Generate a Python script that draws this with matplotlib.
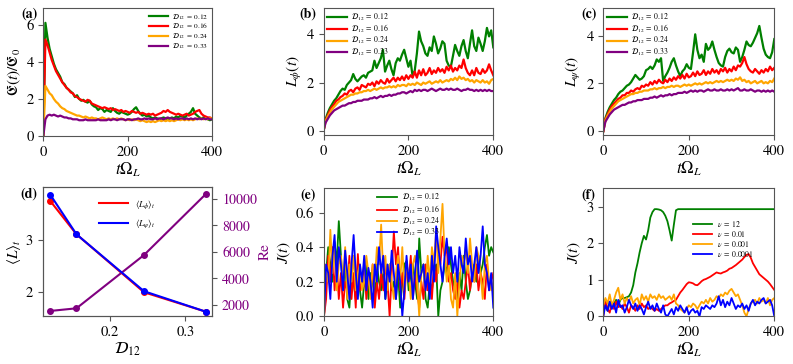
import numpy as np
import matplotlib
matplotlib.use("Agg")
import matplotlib.pyplot as plt
from matplotlib.lines import Line2D

plt.rcParams['font.family'] = 'STIXGeneral'
plt.rcParams['mathtext.fontset'] = 'stix'
plt.rcParams['font.size'] = 10

# ---- data ----
d_labels = [r'$\mathcal{D}_{12}\;=\;0.12$', r'$\mathcal{D}_{12}\;=\;0.16$',
            r'$\mathcal{D}_{12}\;=\;0.24$', r'$\mathcal{D}_{12}\;=\;0.33$']
nu_labels = [r'$\nu\;=\;12$', r'$\nu\;=\;0.01$', r'$\nu\;=\;0.001$', r'$\nu\;=\;0.0001$']

# (a) energy ratio, sampled every 5 time units
E_012 = [0.0, 6.1, 5.3, 4.7, 4.3, 3.9, 3.6, 3.4, 3.2, 2.9, 2.8, 2.6, 2.5, 2.4, 2.3, 2.1, 2.2, 2.0, 1.9, 1.95,
         1.85, 1.8, 1.9, 1.7, 1.6, 1.55, 1.4, 1.5, 1.45, 1.3, 1.4, 1.35, 1.3, 1.5, 1.35, 1.25, 1.2, 1.3, 1.25, 1.2,
         1.15, 1.2, 1.3, 1.45, 1.55, 1.35, 1.2, 1.1, 1.15, 1.05, 1.1, 1.0, 0.95, 1.0, 0.95, 0.9, 0.95, 1.0, 0.95, 0.9,
         0.95, 1.0, 0.95, 1.05, 1.0, 1.1, 1.05, 1.0, 1.1, 1.2, 1.3, 1.5, 1.2, 1.1, 1.0, 0.95, 1.0, 0.95, 0.9, 0.85, 0.9]
E_016 = [0.0, 5.2, 4.9, 4.5, 4.1, 3.8, 3.5, 3.3, 3.1, 2.9, 2.75, 2.6, 2.5, 2.35, 2.3, 2.15, 2.1, 2.0, 1.95, 1.9,
         1.85, 1.95, 1.9, 1.75, 1.7, 1.65, 1.6, 1.55, 1.5, 1.55, 1.5, 1.45, 1.5, 1.4, 1.45, 1.4, 1.35, 1.4, 1.3, 1.35,
         1.3, 1.25, 1.35, 1.3, 1.25, 1.3, 1.2, 1.25, 1.2, 1.15, 1.2, 1.15, 1.2, 1.1, 1.15, 1.2, 1.25, 1.35, 1.3, 1.4,
         1.3, 1.25, 1.2, 1.15, 1.2, 1.15, 1.1, 1.15, 1.2, 1.1, 1.15, 1.2, 1.3, 1.35, 1.4, 1.2, 1.1, 1.05, 1.0, 1.0, 0.95]
E_024 = [0.0, 2.7, 2.5, 2.3, 2.2, 2.0, 1.85, 1.75, 1.6, 1.5, 1.45, 1.35, 1.3, 1.25, 1.2, 1.15, 1.1, 1.1, 1.05, 1.0,
         1.05, 1.0, 0.95, 1.0, 0.95, 0.95, 0.9, 0.95, 1.0, 0.95, 0.9, 0.95, 0.9, 0.95, 0.9, 0.95, 0.9, 0.95, 0.9, 0.85,
         0.9, 0.85, 0.9, 0.85, 0.9, 0.85, 0.8, 0.85, 0.8, 0.75, 0.8, 0.75, 0.8, 0.75, 0.8, 0.85, 0.8, 0.85, 0.8, 0.85,
         0.8, 0.85, 0.8, 0.85, 0.9, 0.85, 0.9, 0.85, 0.9, 0.85, 0.9, 0.85, 0.9, 0.95, 0.9, 0.95, 0.9, 0.95, 0.9, 0.95, 0.95]
E_033 = [0.0, 0.9, 1.1, 1.15, 1.1, 1.15, 1.1, 1.05, 1.1, 1.05, 1.0, 1.0, 0.95, 0.95, 0.9, 0.9, 0.9, 0.85, 0.85, 0.85,
         0.9, 0.85, 0.85, 0.85, 0.85, 0.85, 0.9, 0.85, 0.85, 0.85, 0.85, 0.9, 0.85, 0.9, 0.9, 0.85, 0.9, 0.9, 0.9, 0.85,
         0.9, 0.9, 0.85, 0.9, 0.9, 0.95, 0.9, 0.9, 0.95, 0.9, 0.95, 0.9, 0.9, 0.95, 0.9, 0.95, 0.95, 0.9, 0.95, 1.0,
         0.95, 0.95, 0.9, 0.95, 0.9, 0.95, 0.95, 0.9, 0.95, 0.9, 0.95, 0.9, 0.95, 0.9, 0.95, 0.9, 0.95, 0.9, 0.95, 0.9, 0.9]

# (b) L_phi(t)
Lphi_012 = [0.0, 0.5, 0.75, 0.95, 1.1, 1.25, 1.35, 1.5, 1.65, 1.75, 1.7, 1.9, 2.0, 2.1, 2.35, 2.15, 2.05, 2.15, 2.25, 2.3,
            2.2, 2.4, 2.45, 2.5, 2.9, 2.6, 2.8, 3.0, 3.35, 2.45, 2.7, 2.9, 2.55, 2.3, 2.8, 3.0, 2.9, 3.15, 3.35, 3.0,
            2.65, 2.9, 2.25, 2.5, 3.2, 4.1, 3.7, 3.5, 3.2, 3.1, 3.45, 3.3, 3.9, 3.6, 3.2, 3.4, 3.7, 3.6, 2.9, 2.7,
            2.65, 3.1, 3.55, 3.3, 3.1, 3.5, 3.75, 3.3, 3.0, 3.6, 4.15, 3.5, 3.3, 3.85, 3.6, 3.3, 3.7, 4.25, 3.9, 4.15, 3.45]
Lphi_016 = [0.0, 0.45, 0.65, 0.85, 1.0, 1.1, 1.25, 1.3, 1.4, 1.45, 1.55, 1.5, 1.65, 1.7, 1.6, 1.75, 1.8, 1.7, 1.9, 1.85,
            1.8, 1.95, 1.9, 2.0, 1.85, 2.05, 1.95, 2.1, 2.0, 1.95, 2.15, 2.0, 2.1, 2.2, 2.05, 2.2, 2.1, 2.25, 2.1, 2.3,
            2.15, 2.3, 2.2, 2.45, 2.2, 2.5, 2.3, 2.55, 2.3, 2.4, 2.6, 2.35, 2.5, 2.4, 2.6, 2.45, 2.55, 2.4, 2.65, 2.5,
            2.7, 2.45, 2.6, 2.5, 2.7, 2.6, 2.95, 2.6, 2.4, 2.3, 2.5, 2.3, 2.6, 2.4, 2.35, 2.55, 2.4, 2.5, 2.75, 2.5, 2.3]
Lphi_024 = [0.0, 0.4, 0.6, 0.75, 0.9, 1.0, 1.1, 1.2, 1.25, 1.3, 1.35, 1.4, 1.45, 1.5, 1.5, 1.55, 1.55, 1.6, 1.6, 1.65,
            1.65, 1.7, 1.65, 1.7, 1.75, 1.7, 1.75, 1.8, 1.75, 1.8, 1.8, 1.85, 1.8, 1.85, 1.8, 1.9, 1.85, 1.9, 1.9, 1.85,
            1.95, 1.9, 1.95, 1.9, 2.0, 1.95, 1.9, 2.0, 1.95, 2.0, 2.05, 1.95, 2.0, 2.05, 2.0, 2.1, 2.0, 2.05, 2.1, 2.05,
            2.15, 2.1, 2.2, 2.1, 2.25, 2.15, 2.2, 2.1, 2.15, 2.05, 2.1, 2.0, 2.1, 2.05, 2.0, 2.1, 2.0, 2.05, 1.95, 2.1, 2.15]
Lphi_033 = [0.0, 0.35, 0.5, 0.65, 0.75, 0.85, 0.9, 0.95, 1.0, 1.05, 1.05, 1.1, 1.15, 1.15, 1.2, 1.2, 1.25, 1.25, 1.25, 1.3,
            1.3, 1.3, 1.35, 1.35, 1.4, 1.35, 1.4, 1.45, 1.4, 1.45, 1.45, 1.5, 1.45, 1.5, 1.5, 1.55, 1.55, 1.6, 1.6, 1.55,
            1.6, 1.65, 1.6, 1.7, 1.65, 1.7, 1.65, 1.7, 1.7, 1.65, 1.7, 1.75, 1.7, 1.65, 1.7, 1.75, 1.7, 1.7, 1.75, 1.7,
            1.75, 1.7, 1.7, 1.75, 1.7, 1.65, 1.7, 1.7, 1.75, 1.7, 1.7, 1.65, 1.7, 1.65, 1.7, 1.65, 1.7, 1.65, 1.7, 1.65, 1.65]

# (c) L_psi(t)
Lpsi_012 = [0.0, 0.55, 0.8, 1.0, 1.15, 1.3, 1.4, 1.55, 1.65, 1.7, 1.8, 1.9, 1.95, 2.05, 2.2, 2.35, 2.25, 2.15, 2.2, 2.3,
            2.55, 2.6, 2.7, 2.6, 2.75, 3.0, 2.9, 3.05, 2.1, 2.3, 2.45, 2.65, 2.9, 3.05, 2.75, 2.5, 2.3, 2.5, 2.6, 2.8,
            2.65, 2.6, 3.3, 4.05, 3.4, 3.05, 3.2, 2.9, 3.65, 3.4, 3.5, 3.75, 3.4, 3.1, 2.85, 2.75, 2.7, 3.1, 3.35, 3.45,
            3.3, 3.25, 3.5, 3.4, 2.9, 3.1, 3.4, 3.75, 3.6, 3.55, 3.7, 3.9, 4.1, 4.4, 3.9, 3.45, 3.2, 3.1, 3.05, 3.3, 3.85]
Lpsi_016 = [0.0, 0.5, 0.7, 0.9, 1.05, 1.15, 1.25, 1.35, 1.4, 1.5, 1.5, 1.6, 1.6, 1.7, 1.65, 1.75, 1.8, 1.75, 1.9, 1.85,
            1.95, 1.9, 2.05, 1.95, 2.1, 2.0, 2.15, 2.05, 2.0, 2.15, 2.05, 2.2, 2.1, 2.25, 2.15, 2.3, 2.2, 2.35, 2.2, 2.4,
            2.25, 2.3, 2.45, 2.3, 2.5, 2.35, 2.4, 2.55, 2.35, 2.5, 2.4, 2.6, 2.45, 2.55, 2.4, 2.6, 2.5, 2.65, 2.45, 2.6,
            2.5, 2.7, 2.55, 2.75, 2.7, 2.85, 3.1, 2.8, 2.6, 2.5, 2.45, 2.6, 2.5, 2.4, 2.55, 2.45, 2.6, 2.5, 2.7, 2.55, 2.65]
Lpsi_024 = [0.0, 0.45, 0.65, 0.8, 0.95, 1.05, 1.15, 1.25, 1.3, 1.35, 1.4, 1.45, 1.5, 1.55, 1.55, 1.6, 1.6, 1.65, 1.65, 1.7,
            1.7, 1.7, 1.75, 1.75, 1.8, 1.75, 1.8, 1.8, 1.85, 1.8, 1.85, 1.85, 1.9, 1.85, 1.9, 1.9, 1.85, 1.9, 1.95, 1.9,
            1.95, 1.9, 1.95, 2.0, 1.95, 2.0, 1.95, 2.0, 2.05, 2.0, 2.05, 2.0, 2.05, 2.1, 2.05, 2.1, 2.05, 2.1, 2.15, 2.1,
            2.15, 2.1, 2.2, 2.15, 2.25, 2.1, 2.15, 2.05, 2.1, 2.0, 2.05, 2.1, 2.0, 2.05, 2.1, 2.0, 2.05, 2.0, 2.1, 2.05, 2.2]
Lpsi_033 = [0.0, 0.4, 0.55, 0.7, 0.8, 0.9, 0.95, 1.0, 1.05, 1.1, 1.1, 1.15, 1.2, 1.2, 1.25, 1.25, 1.3, 1.3, 1.3, 1.35,
            1.35, 1.35, 1.4, 1.4, 1.45, 1.4, 1.45, 1.5, 1.45, 1.5, 1.5, 1.55, 1.5, 1.55, 1.55, 1.6, 1.6, 1.6, 1.65, 1.6,
            1.65, 1.7, 1.65, 1.7, 1.65, 1.7, 1.7, 1.65, 1.7, 1.75, 1.7, 1.7, 1.75, 1.7, 1.7, 1.75, 1.7, 1.7, 1.75, 1.7,
            1.75, 1.7, 1.75, 1.8, 1.7, 1.7, 1.75, 1.7, 1.7, 1.75, 1.7, 1.65, 1.7, 1.7, 1.65, 1.7, 1.65, 1.7, 1.65, 1.7, 1.65]

# (d) time averages and Reynolds number
D12 = [0.12, 0.155, 0.245, 0.327]
Lphi_mean = [3.75, 3.11, 2.0, 1.63]
Lpsi_mean = [3.87, 3.11, 2.02, 1.63]
Re = [1550, 1750, 5770, 10350]

# (e) J(t)
J_012 = [0.0, 0.25, 0.4, 0.3, 0.2, 0.43, 0.3, 0.55, 0.35, 0.15, 0.3, 0.1, 0.05, 0.25, 0.2, 0.1, 0.3, 0.15, 0.05, 0.2,
         0.3, 0.1, 0.25, 0.2, 0.1, 0.3, 0.2, 0.15, 0.25, 0.1, 0.2, 0.3, 0.15, 0.2, 0.1, 0.25, 0.05, 0.2, 0.3, 0.32,
         0.15, 0.25, 0.3, 0.2, 0.1, 0.45, 0.25, 0.3, 0.1, 0.05, 0.2, 0.15, 0.25, 0.3, 0.0, 0.15, 0.2, 0.3, 0.25, 0.4,
         0.3, 0.2, 0.15, 0.1, 0.25, 0.15, 0.35, 0.2, 0.1, 0.15, 0.25, 0.3, 0.2, 0.35, 0.25, 0.3, 0.4, 0.47, 0.35, 0.4, 0.37]
J_016 = [0.0, 0.1, 0.35, 0.2, 0.4, 0.15, 0.3, 0.1, 0.25, 0.05, 0.2, 0.15, 0.35, 0.1, 0.25, 0.05, 0.36, 0.15, 0.2, 0.3,
         0.1, 0.25, 0.15, 0.3, 0.05, 0.2, 0.1, 0.25, 0.15, 0.3, 0.2, 0.0, 0.25, 0.49, 0.3, 0.4, 0.15, 0.25, 0.1, 0.3,
         0.2, 0.35, 0.1, 0.25, 0.15, 0.05, 0.2, 0.1, 0.3, 0.15, 0.25, 0.1, 0.3, 0.2, 0.35, 0.3, 0.46, 0.35, 0.4, 0.2,
         0.25, 0.15, 0.1, 0.2, 0.05, 0.15, 0.1, 0.2, 0.3, 0.15, 0.25, 0.2, 0.3, 0.15, 0.25, 0.2, 0.1, 0.3, 0.15, 0.2, 0.25]
J_024 = [0.0, 0.3, 0.2, 0.5, 0.25, 0.4, 0.15, 0.3, 0.35, 0.2, 0.4, 0.1, 0.3, 0.2, 0.35, 0.15, 0.25, 0.3, 0.15, 0.2,
         0.35, 0.25, 0.1, 0.3, 0.2, 0.4, 0.3, 0.53, 0.25, 0.35, 0.15, 0.3, 0.2, 0.1, 0.25, 0.35, 0.2, 0.4, 0.15, 0.3,
         0.25, 0.1, 0.3, 0.35, 0.2, 0.0, 0.25, 0.3, 0.15, 0.35, 0.2, 0.4, 0.3, 0.5, 0.25, 0.45, 0.65, 0.35, 0.2, 0.3,
         0.1, 0.05, 0.25, 0.0, 0.2, 0.35, 0.3, 0.4, 0.25, 0.45, 0.3, 0.2, 0.4, 0.35, 0.25, 0.1, 0.3, 0.35, 0.2, 0.15, 0.2]
J_033 = [0.0, 0.3, 0.25, 0.1, 0.35, 0.47, 0.2, 0.4, 0.3, 0.15, 0.38, 0.25, 0.1, 0.3, 0.47, 0.25, 0.1, 0.3, 0.2, 0.35,
         0.15, 0.28, 0.2, 0.05, 0.3, 0.2, 0.4, 0.25, 0.35, 0.1, 0.3, 0.2, 0.38, 0.25, 0.1, 0.3, 0.2, 0.0, 0.15, 0.35,
         0.2, 0.3, 0.1, 0.25, 0.38, 0.2, 0.25, 0.3, 0.15, 0.25, 0.1, 0.35, 0.2, 0.52, 0.4, 0.3, 0.2, 0.35, 0.45, 0.3,
         0.4, 0.25, 0.35, 0.2, 0.4, 0.3, 0.25, 0.45, 0.3, 0.35, 0.2, 0.3, 0.4, 0.25, 0.35, 0.52, 0.3, 0.25, 0.15, 0.25, 0.05]

# (f) J(t) for different nu
Jnu_12 = [0.2, 0.35, 0.15, 0.4, 0.25, 0.35, 0.45, 0.3, 0.45, 0.5, 0.5, 0.52, 0.55, 0.65, 0.85, 1.2, 1.45, 1.75, 2.0, 2.2,
          2.1, 2.35, 2.7, 2.85, 2.93, 2.93, 2.92, 2.9, 2.85, 2.75, 2.6, 2.35, 2.07, 2.5, 2.9, 2.93] + [2.93] * 45
Jnu_001 = [0.0, 0.45, 0.2, 0.1, 0.35, 0.2, 0.4, 0.25, 0.3, 0.2, 0.35, 0.25, 0.1, 0.3, 0.25, 0.15, 0.3, 0.2, 0.35, 0.25,
           0.3, 0.2, 0.25, 0.2, 0.15, 0.2, 0.15, 0.2, 0.25, 0.3, 0.3, 0.35, 0.38, 0.42, 0.45, 0.55, 0.65, 0.72, 0.8, 0.88,
           0.93, 0.92, 0.9, 0.86, 0.85, 0.9, 0.96, 1.0, 1.02, 1.05, 1.08, 1.12, 1.16, 1.2, 1.18, 1.17, 1.2, 1.22, 1.25, 1.3,
           1.32, 1.36, 1.4, 1.45, 1.5, 1.55, 1.62, 1.68, 1.7, 1.6, 1.45, 1.35, 1.25, 1.15, 1.1, 1.05, 1.0, 0.95, 0.88, 0.8, 0.72]
Jnu_0001 = [0.3, 0.5, 0.35, 0.6, 0.3, 0.45, 0.65, 0.78, 0.45, 0.6, 0.35, 0.5, 0.4, 0.55, 0.35, 0.45, 0.5, 0.3, 0.6, 0.45,
            0.55, 0.4, 0.6, 0.5, 0.55, 0.45, 0.6, 0.5, 0.55, 0.45, 0.5, 0.55, 0.45, 0.6, 0.35, 0.3, 0.2, 0.15, 0.1, 0.2,
            0.3, 0.25, 0.35, 0.3, 0.2, 0.3, 0.4, 0.35, 0.45, 0.35, 0.5, 0.4, 0.45, 0.55, 0.5, 0.6, 0.55, 0.65, 0.6, 0.7,
            0.75, 0.65, 0.55, 0.6, 0.45, 0.3, 0.1, 0.0, 0.2, 0.35, 0.4, 0.45, 0.35, 0.5, 0.4, 0.45, 0.35, 0.5, 0.3, 0.45, 0.5]
Jnu_00001 = [0.0, 0.3, 0.15, 0.4, 0.2, 0.35, 0.1, 0.45, 0.25, 0.3, 0.1, 0.25, 0.45, 0.3, 0.2, 0.35, 0.15, 0.3, 0.2, 0.05,
             0.25, 0.4, 0.2, 0.3, 0.15, 0.35, 0.2, 0.1, 0.3, 0.05, 0.0, 0.1, 0.2, 0.05, 0.25, 0.15, 0.3, 0.2, 0.1, 0.25,
             0.05, 0.15, 0.2, 0.1, 0.15, 0.0, 0.25, 0.2, 0.3, 0.25, 0.2, 0.3, 0.25, 0.35, 0.55, 0.3, 0.45, 0.25, 0.4, 0.3,
             0.5, 0.35, 0.2, 0.3, 0.25, 0.35, 0.2, 0.3, 0.15, 0.35, 0.45, 0.3, 0.4, 0.35, 0.45, 0.5, 0.35, 0.4, 0.45, 0.3, 0.0]

colors4 = ['green', 'red', 'orange', 'purple']
colors4b = ['green', 'red', 'orange', 'blue']
spine_col = '#555555'


def tgrid(y):
    return np.linspace(0, 400, len(y))


def style(ax, label, lx=-0.13):
    for s in ax.spines.values():
        s.set_color(spine_col)
    ax.tick_params(direction='out', length=3.5, color=spine_col, labelsize=10.5)
    ax.text(lx, 1.0, label, transform=ax.transAxes, fontweight='bold',
            fontsize=10, va='top', ha='left')


fig = plt.figure(figsize=(7.93, 3.64), dpi=100)
W, H = 793.0, 364.0


def add_ax(l, r, t, b):
    return fig.add_axes([l / W, 1 - b / H, (r - l) / W, (b - t) / H])


axa = add_ax(43.3, 212, 8, 136)
axb = add_ax(323.5, 493.3, 8, 135)
axc = add_ax(603.3, 774.3, 8, 135)
axd = add_ax(42.7, 212.3, 187.3, 316.3)
axe = add_ax(324, 493.3, 188.3, 316.3)
axf = add_ax(603.3, 774.3, 188.3, 316.3)


def small_legend(ax, spacing=0.0, fs=5.6, **kw):
    return ax.legend(frameon=False, fontsize=fs, handlelength=2.5, labelspacing=spacing,
                     borderpad=0.2, handletextpad=0.6, borderaxespad=0.3, **kw)


# (a)
for y, c, lab in zip([E_012, E_016, E_024, E_033], colors4, d_labels):
    axa.plot(tgrid(y), y, color=c, lw=1.6, label=lab)
axa.set_xlim(0, 400)
axa.set_ylim(0, 6.9)
axa.set_xticks([0, 200, 400])
axa.set_yticks([0, 2, 4, 6])
axa.set_xlabel(r'$t\Omega_L$', fontsize=12, labelpad=1)
axa.set_ylabel(r'$\mathfrak{E}(t)/\mathfrak{E}_0$', fontsize=11, labelpad=2)
small_legend(axa, spacing=0.0, fs=5.3, loc='upper right')
style(axa, '(a)', lx=-0.13)

# (b)
for y, c, lab in zip([Lphi_012, Lphi_016, Lphi_024, Lphi_033], colors4, d_labels):
    axb.plot(tgrid(y), y, color=c, lw=1.6, label=lab)
axb.set_xlim(0, 400)
axb.set_ylim(-0.16, 5.07)
axb.set_xticks([0, 200, 400])
axb.set_yticks([0, 2, 4])
axb.set_xlabel(r'$t\Omega_L$', fontsize=12, labelpad=1)
axb.set_ylabel(r'$L_\phi(t)$', fontsize=11, labelpad=2)
small_legend(axb, loc='upper left')
style(axb, '(b)', lx=-0.14)

# (c)
for y, c, lab in zip([Lpsi_012, Lpsi_016, Lpsi_024, Lpsi_033], colors4, d_labels):
    axc.plot(tgrid(y), y, color=c, lw=1.6, label=lab)
axc.set_xlim(0, 400)
axc.set_ylim(-0.16, 5.15)
axc.set_xticks([0, 200, 400])
axc.set_yticks([0, 2, 4])
axc.set_xlabel(r'$t\Omega_L$', fontsize=12, labelpad=1)
axc.set_ylabel(r'$L_\psi(t)$', fontsize=11, labelpad=2)
small_legend(axc, loc='upper left')
style(axc, '(c)', lx=-0.13)

# (d)
axd2 = axd.twinx()
axd2.plot(D12, Re, color='purple', marker='o', ms=4, lw=1.5)
axd.plot(D12, Lphi_mean, color='red', marker='o', ms=4, lw=1.5)
axd.plot(D12, Lpsi_mean, color='blue', marker='o', ms=4, lw=1.5)
axd.set_zorder(axd2.get_zorder() + 1)
axd.patch.set_visible(False)
axd.set_xlim(0.110, 0.336)
axd.set_ylim(1.54, 4.01)
axd.set_xticks([0.2, 0.3])
axd.set_yticks([2, 3])
axd2.set_ylim(1147, 10880)
axd2.set_yticks([2000, 4000, 6000, 8000, 10000])
axd2.set_ylabel('Re', color='purple', fontsize=11, labelpad=1)
axd.set_xlabel(r'$\mathcal{D}_{12}$', fontsize=12, labelpad=1)
axd.set_ylabel(r'$\langle L\rangle_t$', fontsize=11, labelpad=2)
handles_d = [Line2D([], [], color='red', lw=1.5), Line2D([], [], color='blue', lw=1.5)]
axd.legend(handles_d, [r'$\langle L_\phi\rangle_t$', r'$\langle L_\psi\rangle_t$'],
           loc='upper center', frameon=False, fontsize=6.5, handlelength=3.2,
           handletextpad=0.8, labelspacing=0.7, bbox_to_anchor=(0.5, 0.98))
style(axd, '(d)', lx=-0.13)
for s in axd2.spines.values():
    s.set_color(spine_col)
axd2.tick_params(axis='y', colors='purple', labelsize=10, length=3.5)
axd2.tick_params(axis='y', color=spine_col)

# (e)
for y, c, lab in zip([J_012, J_016, J_024, J_033], colors4b, d_labels):
    axe.plot(tgrid(y), y, color=c, lw=1.3, label=lab)
axe.set_xlim(0, 400)
axe.set_ylim(0, 0.74)
axe.set_xticks([0, 200, 400])
axe.set_yticks([0.0, 0.2, 0.4, 0.6])
axe.set_xlabel(r'$t\Omega_L$', fontsize=12, labelpad=1)
axe.set_ylabel(r'$J(t)$', fontsize=11, labelpad=2)
small_legend(axe, loc='upper center', bbox_to_anchor=(0.5, 1.0))
style(axe, '(e)', lx=-0.14)

# (f)
for y, c, lab in zip([Jnu_12, Jnu_001, Jnu_0001, Jnu_00001], colors4b, nu_labels):
    axf.plot(tgrid(y), y, color=c, lw=1.3, label=lab)
axf.set_xlim(0, 400)
axf.set_ylim(0, 3.5)
axf.set_xticks([0, 200, 400])
axf.set_yticks([0, 1, 2, 3])
axf.set_xlabel(r'$t\Omega_L$', fontsize=12, labelpad=1)
axf.set_ylabel(r'$J(t)$', fontsize=11, labelpad=2)
small_legend(axf, spacing=0.0, loc='upper left', bbox_to_anchor=(0.5, 0.79))
style(axf, '(f)', lx=-0.13)

fig.savefig('out.png', dpi=100)
